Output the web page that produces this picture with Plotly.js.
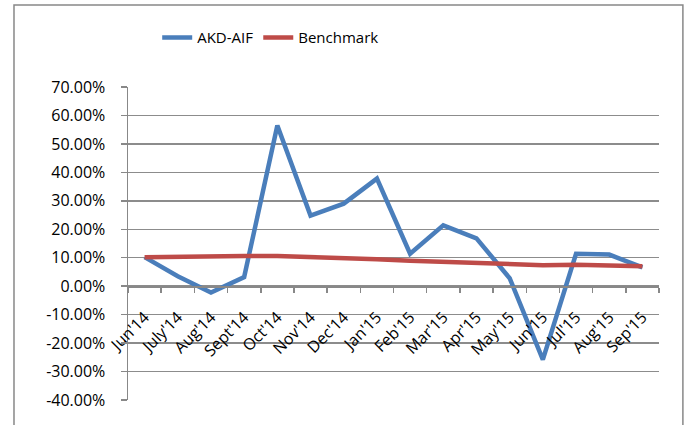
<!DOCTYPE html>
<html><head><meta charset="utf-8">
<script src="https://cdn.plot.ly/plotly-3.0.1.min.js"></script>
<style>html,body{margin:0;padding:0;background:#fff}#c{width:692px;height:425px}</style>
</head><body><div id="c"></div>
<script>
var months = ["Jun'14","July'14","Aug'14","Sept'14","Oct'14","Nov'14","Dec'14","Jan'15","Feb'15","Mar'15","Apr'15","May'15","Jun'15","Jul'15","Aug'15","Sep'15"];
var akdAif = [0.102,0.035,-0.022,0.032,0.565,0.248,0.290,0.378,0.114,0.214,0.168,0.028,-0.258,0.114,0.111,0.066];
var benchmark = [0.102,0.104,0.106,0.106,0.106,0.103,0.100,0.095,0.089,0.085,0.082,0.075,0.074,0.075,0.074,0.070];
var yTicks = [0.7,0.6,0.5,0.4,0.3,0.2,0.1,0,-0.1,-0.2,-0.3,-0.4];
var yTickText = ["70.00%","60.00%","50.00%","40.00%","30.00%","20.00%","10.00%","0.00%","-10.00%","-20.00%","-30.00%","-40.00%"];

var fnt = {family:"Open Sans, Liberation Sans, sans-serif", size:16, color:"#000"};
var traces = [
  {x:months, y:akdAif, name:"AKD-AIF", type:"scatter", mode:"lines", line:{color:"#4a7ebb", width:4.5}},
  {x:months, y:benchmark, name:"Benchmark", type:"scatter", mode:"lines", line:{color:"#be4b48", width:4.5}}
];
var layout = {
  width:692, height:425,
  margin:{l:128, r:33, t:87, b:25},
  paper_bgcolor:"#fff", plot_bgcolor:"#fff",
  font:fnt,
  showlegend:true,
  legend:{orientation:"h", x:0.055, xanchor:"left", y:1.157, yanchor:"middle", font:{family:fnt.family,size:15,color:"#000"}, traceorder:"normal"},
  xaxis:{type:"category", range:[-0.5,15.5], anchor:"free", position:0.3636, showline:true, linecolor:"#888", linewidth:1.5,
    ticks:"outside", tickson:"boundaries", ticklen:5, tickcolor:"#888", tickwidth:1.5, ticklabelstandoff:14,
    tickangle:-45, showgrid:false, zeroline:false, tickfont:{family:fnt.family,size:16,color:"#000"}},
  yaxis:{range:[-0.4,0.7], tickvals:yTicks, ticktext:yTickText, showgrid:true, gridcolor:"#8c8c8c", gridwidth:1.5,
    showline:true, linecolor:"#888", linewidth:1.5, ticks:"outside", ticklen:6, tickcolor:"#888", tickwidth:1.5,
    zeroline:false, tickfont:{family:fnt.family,size:16,color:"#000"}, ticklabelstandoff:12},
  shapes:[{type:"rect", xref:"paper", yref:"paper", x0:-0.2147, x1:1.045, y0:-0.3, y1:1.262, line:{color:"#888", width:1.5}, fillcolor:"rgba(0,0,0,0)"}]
};
Plotly.newPlot("c", traces, layout, {displayModeBar:false, staticPlot:true});
</script></body></html>
